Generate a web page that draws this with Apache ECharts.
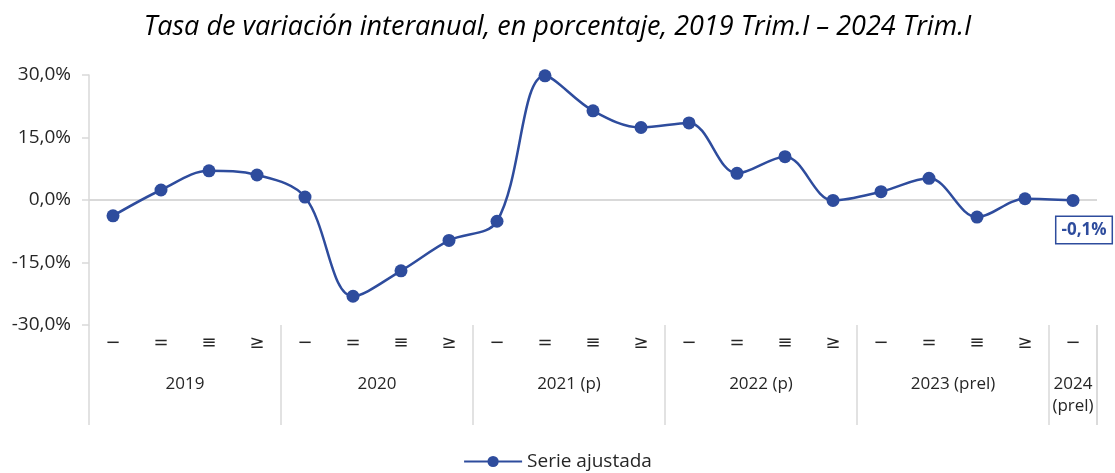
<!DOCTYPE html>
<html>
<head>
<meta charset="utf-8">
<script src="https://cdn.jsdelivr.net/npm/echarts@6/dist/echarts.min.js"></script>
<style>
  html, body { margin: 0; padding: 0; background: #fff; }
  #chart { width: 1115px; height: 473px; }
</style>
</head>
<body>
<div id="chart"></div>
<script>
// trimestres (el original usa números romanos que salen como símbolos)
const quarters = ['−', '=', '≡', '≥', '−', '=', '≡', '≥', '−', '=', '≡', '≥',
  '−', '=', '≡', '≥', '−', '=', '≡', '≥', '−']
// etiquetas de año, centradas en cada grupo (posición en trimestres)
const yearPos = [2, 6, 10, 14, 18, 20.5]
const yearLabels = ['2019', '2020', '2021 (p)', '2022 (p)', '2023 (prel)', '2024\n(prel)']
const serieAjustada = [-3.8, 2.4, 7.0, 6.0, 0.7, -23.1, -17.0, -9.7, -5.1, 29.8,
  21.4, 17.4, 18.5, 6.4, 10.4, -0.1, 2.0, 5.2, -4.1, 0.3, -0.1]
const yTicks = [-30, -15, 0, 15, 30]

const fontFam = '"Open Sans", sans-serif'
const blue = '#2E4C9D'
const gray = '#D9D9D9'
const textCol = '#262626'

const chart = echarts.init(document.getElementById('chart'))

const fmtPct = v => v.toFixed(1).replace('.', ',') + '%'

chart.setOption({
  backgroundColor: '#fff',
  textStyle: { fontFamily: fontFam },
  title: {
    text: 'Tasa de variación interanual, en porcentaje, 2019 Trim.I – 2024 Trim.I',
    left: 'center',
    top: 9,
    textStyle: {
      fontFamily: fontFam,
      fontStyle: 'italic',
      fontWeight: 'normal',
      fontSize: 27,
      color: '#000'
    }
  },
  legend: {
    top: 447,
    left: 'center',
    itemWidth: 58,
    itemHeight: 14,
    itemGap: 4,
    textStyle: { fontSize: 19, color: textCol, fontFamily: fontFam },
    data: ['Serie ajustada']
  },
  grid: {
    left: 89,
    right: 18,
    top: 75,
    bottom: 148
  },
  xAxis: [
    {
      type: 'category',
      data: quarters,
      boundaryGap: true,
      axisLine: { show: false, onZero: false },
      axisTick: {
        show: true,
        length: 100,
        interval: i => i % 4 === 0,
        lineStyle: { color: gray, width: 1.5 }
      },
      axisLabel: {
        interval: 0,
        rotate: 0,
        margin: 9,
        fontSize: 18,
        color: textCol,
        fontFamily: '"DejaVu Sans", sans-serif'
      }
    },
    {
      type: 'value',
      position: 'bottom',
      min: 0,
      max: quarters.length,
      interval: 0.5,
      axisLine: { show: false, onZero: false },
      axisTick: { show: false },
      splitLine: { show: false },
      axisLabel: {
        margin: 48,
        fontSize: 17,
        lineHeight: 22,
        color: textCol,
        fontFamily: fontFam,
        formatter: v => {
          const k = yearPos.indexOf(v)
          return k >= 0 ? yearLabels[k] : ''
        }
      }
    }
  ],
  yAxis: {
    type: 'value',
    min: yTicks[0],
    max: yTicks[yTicks.length - 1],
    interval: 15,
    axisLine: { show: true, lineStyle: { color: gray, width: 1.5 } },
    axisTick: { show: true, length: 7, lineStyle: { color: gray, width: 1.5 } },
    splitLine: { show: false },
    axisLabel: {
      margin: 18,
      fontSize: 19,
      color: textCol,
      fontFamily: fontFam,
      formatter: fmtPct
    }
  },
  series: [
    {
      name: 'Serie ajustada',
      type: 'line',
      xAxisIndex: 0,
      data: serieAjustada.map((v, i) => {
        if (i === serieAjustada.length - 1) {
          return {
            value: v,
            label: {
              show: true,
              position: 'bottom',
              distance: 10,
              offset: [11, 0],
              formatter: p => fmtPct(p.value),
              color: blue,
              fontWeight: 'bold',
              fontSize: 17,
              fontFamily: fontFam,
              backgroundColor: '#fff',
              borderColor: blue,
              borderWidth: 1.5,
              padding: [5, 5, 4, 5]
            }
          }
        }
        return v
      }),
      smooth: 0.35,
      symbol: 'circle',
      symbolSize: 13,
      showAllSymbol: true,
      lineStyle: { color: blue, width: 2.5 },
      itemStyle: { color: blue },
      z: 3,
      markLine: {
        silent: true,
        symbol: 'none',
        label: { show: false },
        lineStyle: { color: gray, width: 2, type: 'solid' },
        data: [{ yAxis: 0 }],
        z: 1
      }
    }
  ]
})

// borde derecho de la tabla de años (el eje no dibuja el último separador)
const last = quarters.length - 1
const pLast = chart.convertToPixel({ seriesIndex: 0 }, [last, yTicks[0]])
const pPrev = chart.convertToPixel({ seriesIndex: 0 }, [last - 1, yTicks[0]])
const xEnd = pLast[0] + (pLast[0] - pPrev[0]) / 2
const yLow = pLast[1]
chart.setOption({
  graphic: [{
    type: 'line',
    silent: true,
    z: 10,
    shape: { x1: xEnd, y1: yLow, x2: xEnd, y2: yLow + 100 },
    style: { stroke: gray, lineWidth: 1.5 }
  }]
})
</script>
</body>
</html>
